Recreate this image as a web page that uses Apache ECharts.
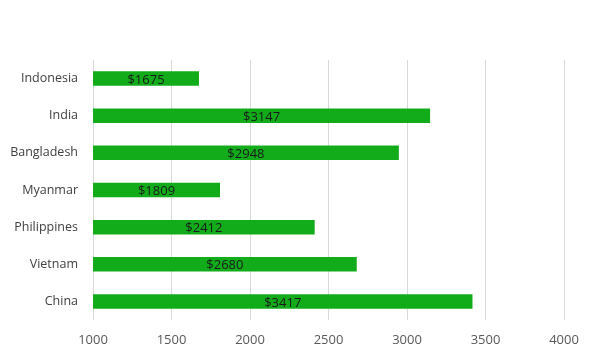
<!DOCTYPE html>
<html>
<head>
<meta charset="utf-8">
<script src="https://cdn.jsdelivr.net/npm/echarts@6/dist/echarts.min.js"></script>
<style>
  html, body { margin: 0; padding: 0; background: #fff; }
  #chart { width: 597px; height: 355px; }
</style>
</head>
<body>
<div id="chart"></div>
<script>
// 数据
const countries = ['China', 'Vietnam', 'Philippines', 'Myanmar', 'Bangladesh', 'India', 'Indonesia'];
const wages = [3417, 2680, 2412, 1809, 2948, 3147, 1675];
const xTicks = [1000, 1500, 2000, 2500, 3000, 3500, 4000];

const chart = echarts.init(document.getElementById('chart'), null, { renderer: 'canvas' });
const font = '"Open Sans", "Noto Sans", sans-serif';

const option = {
  animation: false,
  grid: { left: 93, right: 33, top: 60, bottom: 35 },
  xAxis: {
    type: 'value',
    min: xTicks[0],
    max: xTicks[xTicks.length - 1],
    interval: 500,
    axisLine: { show: false },
    axisTick: { show: false },
    axisLabel: {
      color: '#595959', fontSize: 13, fontFamily: font, margin: 14,
      formatter: v => String(v)
    },
    splitLine: { show: true, lineStyle: { color: '#d9d9d9', width: 1 } }
  },
  yAxis: {
    type: 'category',
    data: countries,
    axisLine: { show: false },
    axisTick: { show: false },
    axisLabel: { color: '#404040', fontSize: 12.5, fontFamily: font, margin: 15 }
  },
  series: [{
    type: 'bar',
    data: wages,
    barWidth: '39%',
    itemStyle: { color: '#12ac1a' },
    label: {
      show: true,
      position: 'inside',
      offset: [0, 1.5],
      formatter: p => '$' + p.value,
      color: '#1a1a1a',
      fontSize: 13,
      fontFamily: font
    }
  }]
};
chart.setOption(option);
</script>
</body>
</html>
